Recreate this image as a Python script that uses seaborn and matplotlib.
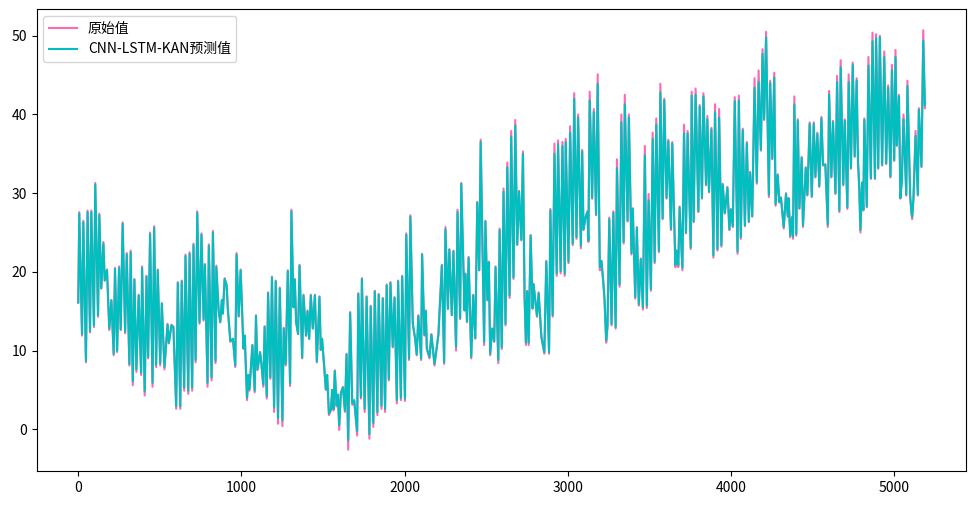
"""Original series vs CNN-LSTM-KAN prediction."""

import matplotlib
matplotlib.use("Agg")
import matplotlib.pyplot as plt
import pandas as pd
import seaborn as sns

# values, split into segments along the time axis
t1 = [0, 6, 23, 31, 47, 57, 72, 80, 96, 104,
      121, 129, 141, 154, 162, 176, 190, 203, 217, 225,
      238, 250, 260, 272, 287, 297, 313, 321, 334, 344,
      356, 370, 385, 391, 407, 418, 428, 440, 455, 465,
      477, 487, 502, 512, 528, 547, 555, 571, 583, 600,
      610, 625, 634, 649, 657, 674, 682, 698, 706, 719,
      729, 743, 755, 768, 776, 792, 800, 817, 825, 841,
      846]
y1 = [16.1, 27.6, 11.9, 26.5, 8.5, 27.8, 12.3, 27.8, 13.0, 31.3,
      14.3, 27.4, 17.9, 23.8, 18.9, 20.3, 12.6, 16.4, 9.4, 20.5,
      9.8, 20.7, 12.6, 26.3, 12.2, 22.4, 8.1, 22.7, 5.6, 19.1,
      7.3, 17.1, 6.9, 20.7, 4.3, 19.5, 9.0, 25.0, 5.4, 25.8,
      7.9, 20.3, 8.1, 16.0, 7.6, 13.4, 10.9, 13.3, 13.0, 2.6,
      18.7, 2.6, 18.9, 4.9, 22.2, 4.5, 22.5, 4.9, 23.6, 8.5,
      27.7, 13.4, 24.9, 13.8, 21.0, 5.4, 23.5, 6.2, 25.2, 8.4,
      20.8]
p1 = [16.1, 27.4, 12.1, 26.3, 8.7, 27.6, 12.5, 27.6, 13.2, 31.1,
      14.5, 27.2, 17.9, 23.6, 18.9, 20.2, 12.8, 16.4, 9.6, 20.4,
      10.0, 20.5, 12.7, 26.1, 12.4, 22.2, 8.3, 22.5, 6.1, 19.0,
      7.6, 17.0, 7.2, 20.5, 4.8, 19.4, 9.2, 24.8, 5.9, 25.6,
      8.2, 20.2, 8.4, 16.0, 7.9, 13.3, 11.0, 13.2, 13.0, 2.9,
      18.6, 2.9, 18.8, 5.3, 22.0, 4.9, 22.3, 5.3, 23.4, 8.8,
      27.5, 13.6, 24.7, 14.0, 20.9, 5.9, 23.3, 6.6, 25.0, 8.7,
      20.6]

t2 = [860, 870, 880, 886, 897, 909, 917, 932, 948, 962,
      970, 983, 995, 1012, 1020, 1034, 1042, 1049, 1067, 1081,
      1089, 1098, 1114, 1122, 1134, 1142, 1155, 1163, 1177, 1187,
      1200, 1210, 1224, 1235, 1251, 1259, 1271, 1284, 1298, 1306,
      1319, 1327, 1335, 1347, 1356, 1372, 1380, 1396, 1405, 1415,
      1425, 1437, 1450, 1462, 1478, 1486, 1494, 1507, 1517, 1525,
      1536, 1548, 1556, 1564, 1572, 1583, 1591, 1599, 1609, 1622,
      1634, 1644, 1654, 1666, 1679, 1691, 1709, 1716, 1732, 1738]
y2 = [15.1, 13.6, 16.4, 14.7, 19.2, 18.3, 15.1, 11.1, 11.5, 7.9,
      22.4, 14.3, 20.3, 10.2, 11.9, 3.7, 6.9, 4.9, 10.7, 4.7,
      14.5, 7.5, 9.8, 8.3, 5.4, 13.1, 3.9, 17.4, 6.4, 19.4,
      2.2, 18.9, 0.7, 18.0, 0.4, 12.9, 8.1, 20.2, 5.5, 27.9,
      15.5, 19.1, 13.6, 12.1, 20.9, 9.0, 17.1, 11.9, 15.1, 11.5,
      17.1, 12.8, 17.1, 8.5, 16.9, 10.1, 11.5, 7.9, 5.0, 6.9,
      1.8, 2.4, 5.0, 2.4, 7.5, 2.9, 4.4, -0.1, 4.6, 5.4,
      2.2, 9.6, -2.6, 14.9, 3.1, 3.6, -0.8, 17.3, 3.9, 19.2]
p2 = [15.1, 13.6, 16.4, 14.7, 19.1, 18.3, 15.1, 11.2, 11.5, 8.1,
      22.2, 14.4, 20.2, 10.3, 11.9, 4.0, 6.9, 5.1, 10.7, 4.9,
      14.4, 7.6, 9.8, 8.4, 5.7, 13.0, 4.2, 17.3, 6.6, 19.3,
      2.8, 18.8, 1.4, 17.9, 1.1, 12.8, 8.3, 20.1, 5.8, 27.7,
      15.5, 19.0, 13.6, 12.1, 20.8, 9.1, 17.0, 11.9, 15.0, 11.5,
      17.0, 12.8, 17.0, 8.6, 16.8, 10.1, 11.5, 8.0, 5.1, 6.9,
      2.0, 2.5, 5.0, 2.6, 7.4, 3.1, 4.4, 0.5, 4.6, 5.3,
      2.4, 9.5, -1.4, 14.8, 3.3, 3.7, -0.2, 17.2, 4.1, 19.1]

t3 = [1755, 1767, 1784, 1792, 1808, 1817, 1833, 1841, 1858, 1866,
      1880, 1890, 1903, 1913, 1927, 1938, 1952, 1960, 1977, 1985,
      2002, 2010, 2027, 2035, 2050, 2064, 2074, 2084, 2101, 2107,
      2121, 2130, 2136, 2152, 2164, 2183, 2207, 2228, 2242, 2250,
      2265, 2274, 2289, 2299, 2315, 2324, 2340, 2347, 2367, 2373,
      2382, 2392, 2408, 2420, 2433, 2445, 2457, 2466, 2487, 2495,
      2507, 2516, 2524, 2537, 2549, 2557, 2574, 2582, 2595, 2606,
      2618, 2629, 2643, 2653]
y3 = [2.2, 16.9, -1.2, 15.7, 0.3, 17.6, 1.8, 17.2, 2.6, 16.7,
      2.2, 18.4, 6.2, 18.7, 10.4, 16.8, 3.3, 18.9, 3.7, 19.5,
      3.6, 24.9, 8.8, 27.2, 13.4, 11.5, 9.4, 14.5, 8.8, 22.3,
      11.9, 15.1, 10.2, 9.0, 12.1, 8.1, 12.1, 20.9, 8.3, 25.7,
      15.3, 22.9, 14.5, 22.7, 10.0, 27.9, 14.0, 31.3, 15.1, 19.8,
      13.6, 21.9, 9.0, 17.1, 11.5, 28.9, 20.2, 36.8, 10.7, 26.5,
      16.4, 21.3, 9.4, 12.8, 11.1, 20.7, 8.4, 25.5, 10.2, 30.6,
      13.2, 33.9, 16.7, 37.9]
p3 = [2.6, 16.8, -0.6, 15.6, 0.8, 17.5, 2.2, 17.1, 3.0, 16.6,
      2.6, 18.3, 6.4, 18.6, 10.5, 16.7, 3.7, 18.8, 4.0, 19.4,
      3.9, 24.7, 9.0, 27.0, 13.4, 11.6, 9.5, 14.4, 9.0, 22.2,
      12.0, 15.0, 10.3, 9.2, 12.0, 8.3, 12.0, 20.8, 8.5, 25.4,
      15.3, 22.8, 14.5, 22.6, 10.5, 27.6, 14.1, 31.2, 15.1, 19.7,
      13.7, 21.8, 9.2, 17.0, 11.6, 28.8, 20.2, 36.5, 11.1, 26.4,
      16.4, 21.2, 9.6, 12.8, 11.2, 20.6, 8.8, 25.3, 10.4, 30.2,
      13.4, 33.3, 17.0, 37.2]

t4 = [2667, 2678, 2690, 2701, 2715, 2725, 2735, 2743, 2751, 2760,
      2772, 2784, 2790, 2811, 2821, 2838, 2856, 2868, 2885, 2893,
      2907, 2918, 2932, 2940, 2956, 2967, 2981, 2987, 3004, 3014,
      3030, 3039, 3053, 3063, 3080, 3088, 3096, 3108, 3120, 3126,
      3134, 3149, 3159, 3173, 3183, 3196, 3206, 3217, 3225, 3235,
      3243, 3254, 3268, 3279, 3293, 3301, 3317, 3328, 3342, 3349,
      3366, 3374, 3390, 3398, 3413, 3423, 3435, 3447, 3460, 3472,
      3484, 3495, 3509, 3520]
y4 = [19.1, 39.3, 23.4, 30.3, 24.0, 35.3, 16.8, 10.7, 17.6, 10.7,
      24.7, 15.3, 18.5, 14.3, 17.4, 11.6, 9.6, 21.4, 9.6, 28.0,
      14.3, 36.3, 19.5, 36.7, 19.8, 36.5, 19.5, 36.9, 21.1, 38.5,
      23.4, 42.7, 24.2, 40.0, 23.0, 35.5, 25.3, 26.9, 27.7, 23.8,
      42.9, 29.3, 40.7, 27.2, 45.1, 20.2, 21.4, 18.7, 16.4, 11.0,
      13.0, 26.9, 13.2, 27.7, 12.8, 34.3, 18.1, 40.0, 23.6, 42.5,
      26.4, 40.0, 22.2, 28.1, 16.6, 25.7, 15.7, 21.7, 15.2, 36.0,
      15.4, 29.9, 17.6, 37.7]
p4 = [19.3, 38.6, 23.5, 30.2, 24.1, 35.0, 16.9, 11.0, 17.5, 11.0,
      24.6, 15.4, 18.4, 14.4, 17.3, 11.8, 9.8, 21.3, 9.8, 27.8,
      14.5, 35.0, 19.8, 36.2, 20.1, 36.0, 19.8, 36.5, 21.3, 37.7,
      23.6, 42.0, 24.4, 39.6, 23.3, 35.3, 25.4, 26.9, 27.6, 24.0,
      41.8, 29.4, 40.3, 27.3, 43.9, 20.6, 21.4, 18.8, 16.5, 11.3,
      13.1, 26.7, 13.4, 27.5, 13.0, 33.2, 18.4, 39.0, 23.8, 41.3,
      26.5, 39.6, 22.4, 28.0, 16.8, 25.6, 15.9, 21.6, 15.5, 34.8,
      15.7, 29.1, 17.8, 36.9]

t5 = [3532, 3542, 3558, 3567, 3581, 3591, 3605, 3616, 3632, 3640,
      3659, 3667, 3677, 3685, 3702, 3712, 3724, 3734, 3753, 3759,
      3771, 3783, 3800, 3808, 3822, 3831, 3847, 3855, 3865, 3880,
      3892, 3902, 3917, 3927, 3941, 3949, 3962, 3978, 3990, 3999,
      4011, 4023, 4040, 4048, 4060, 4072, 4085, 4097, 4109, 4117,
      4130, 4144, 4158, 4169, 4183, 4193, 4203, 4215, 4232, 4240,
      4253, 4265, 4273, 4286, 4296, 4306, 4323, 4337, 4348, 4353,
      4363, 4374, 4380, 4388, 4400]
y5 = [21.1, 39.5, 22.5, 43.9, 26.7, 42.0, 29.3, 36.8, 25.3, 36.5,
      20.6, 22.7, 20.6, 28.3, 20.2, 38.7, 24.9, 37.9, 22.9, 42.9,
      26.3, 43.3, 27.6, 41.2, 29.3, 42.7, 31.0, 39.8, 30.1, 38.3,
      21.8, 41.3, 22.7, 40.7, 23.2, 31.2, 27.4, 30.8, 25.3, 28.0,
      25.7, 42.2, 22.3, 42.4, 24.2, 38.2, 25.8, 36.5, 26.3, 32.7,
      27.0, 44.6, 31.2, 45.6, 35.4, 48.3, 39.3, 50.5, 29.5, 44.3,
      34.3, 45.3, 28.4, 32.4, 28.8, 29.5, 25.5, 30.0, 27.0, 29.4,
      24.4, 27.0, 24.2, 42.3, 24.6]
p5 = [21.3, 38.7, 22.7, 42.8, 26.8, 41.8, 29.4, 36.6, 25.5, 36.3,
      20.9, 22.7, 20.9, 28.2, 20.5, 37.6, 25.0, 37.6, 23.1, 42.4,
      26.4, 42.5, 27.7, 41.0, 29.4, 42.3, 31.1, 39.4, 30.2, 38.1,
      22.1, 40.3, 22.9, 39.6, 23.4, 31.1, 27.5, 30.7, 25.4, 27.9,
      25.8, 41.7, 22.6, 41.8, 24.4, 38.0, 25.9, 36.3, 26.4, 32.6,
      27.1, 43.4, 31.4, 44.1, 35.5, 47.7, 39.4, 49.8, 29.8, 44.0,
      34.4, 44.7, 28.6, 32.3, 28.9, 29.4, 25.7, 29.9, 27.1, 29.3,
      24.6, 26.9, 24.5, 41.3, 24.8]

t6 = [4409, 4419, 4433, 4441, 4458, 4468, 4482, 4495, 4507, 4517,
      4529, 4541, 4554, 4564, 4578, 4593, 4601, 4615, 4625, 4640,
      4650, 4664, 4672, 4688, 4697, 4713, 4721, 4735, 4746, 4758,
      4770, 4778, 4786, 4793, 4803, 4811, 4817, 4832, 4842, 4857,
      4867, 4882, 4889, 4902, 4912, 4926, 4939, 4951, 4963, 4977,
      4986, 5000, 5008, 5016, 5029, 5038, 5047, 5057, 5074, 5081,
      5098, 5106, 5110, 5118, 5131, 5145, 5151, 5167, 5178, 5188]
y6 = [39.4, 28.0, 34.6, 25.7, 33.3, 29.7, 39.0, 29.5, 39.0, 32.0,
      37.7, 30.8, 39.7, 33.5, 33.7, 25.7, 43.0, 32.0, 39.2, 29.9,
      44.9, 27.6, 46.9, 31.0, 39.4, 28.0, 45.1, 33.1, 46.6, 34.6,
      44.6, 34.1, 30.5, 25.0, 31.4, 27.8, 39.5, 28.2, 47.3, 31.8,
      50.4, 31.8, 50.2, 33.1, 50.0, 33.5, 48.0, 33.7, 43.7, 32.0,
      46.3, 34.1, 48.2, 36.0, 42.5, 29.3, 31.6, 40.0, 29.7, 44.3,
      29.5, 27.4, 26.7, 29.3, 37.9, 29.7, 40.8, 33.3, 50.7, 40.8]
p6 = [39.2, 28.1, 34.5, 25.9, 33.2, 29.8, 38.8, 29.6, 38.8, 32.1,
      37.5, 30.9, 39.5, 33.6, 33.6, 26.0, 42.5, 32.1, 39.0, 30.0,
      44.1, 27.8, 46.0, 31.1, 39.2, 28.2, 44.1, 33.2, 46.3, 34.7,
      44.3, 34.2, 30.6, 25.3, 31.3, 27.9, 39.3, 28.3, 46.2, 31.9,
      49.3, 31.9, 49.7, 33.2, 49.8, 33.6, 47.3, 33.8, 43.4, 32.1,
      45.6, 34.2, 47.3, 36.1, 42.3, 29.4, 31.7, 39.4, 29.8, 43.6,
      29.6, 27.5, 27.0, 29.3, 37.3, 29.8, 40.6, 33.4, 49.4, 41.2]

ACTUAL_LABEL = "原始值"
PRED_LABEL = "CNN-LSTM-KAN预测值"

plt.rcParams["font.family"] = ["Noto Sans CJK SC", "DejaVu Sans"]
plt.rcParams["axes.unicode_minus"] = False


def build_frame() -> pd.DataFrame:
    segments = [(t1, y1, p1), (t2, y2, p2), (t3, y3, p3),
                (t4, y4, p4), (t5, y5, p5), (t6, y6, p6)]
    parts = []
    for t, y, p in segments:
        assert len(t) == len(y) == len(p), (len(t), len(y), len(p))
        parts.append(pd.DataFrame({"t": t, "actual": y, "pred": p}))
    return pd.concat(parts, ignore_index=True)


def main() -> None:
    df = build_frame()

    fig = plt.figure(figsize=(9.76, 5.07), dpi=100)
    ax = fig.add_axes([36.5 / 976, 1 - 471 / 507, 929.5 / 976, 462 / 507])

    sns.lineplot(data=df, x="t", y="actual", ax=ax, color="#FF69B4",
                 linewidth=1.5, label=ACTUAL_LABEL, estimator=None, sort=False)
    sns.lineplot(data=df, x="t", y="pred", ax=ax, color="#00BFBF",
                 linewidth=1.5, label=PRED_LABEL, estimator=None, sort=False)

    ax.set_xlim(-256, 5440)
    ax.set_ylim(-5.3, 53.4)
    ax.set_xticks([0, 1000, 2000, 3000, 4000, 5000])
    ax.set_yticks([0, 10, 20, 30, 40, 50])
    ax.set_xlabel("")
    ax.set_ylabel("")
    ax.legend(loc="upper left")

    fig.savefig("out.png", dpi=100)
    plt.close(fig)


if __name__ == "__main__":
    main()
